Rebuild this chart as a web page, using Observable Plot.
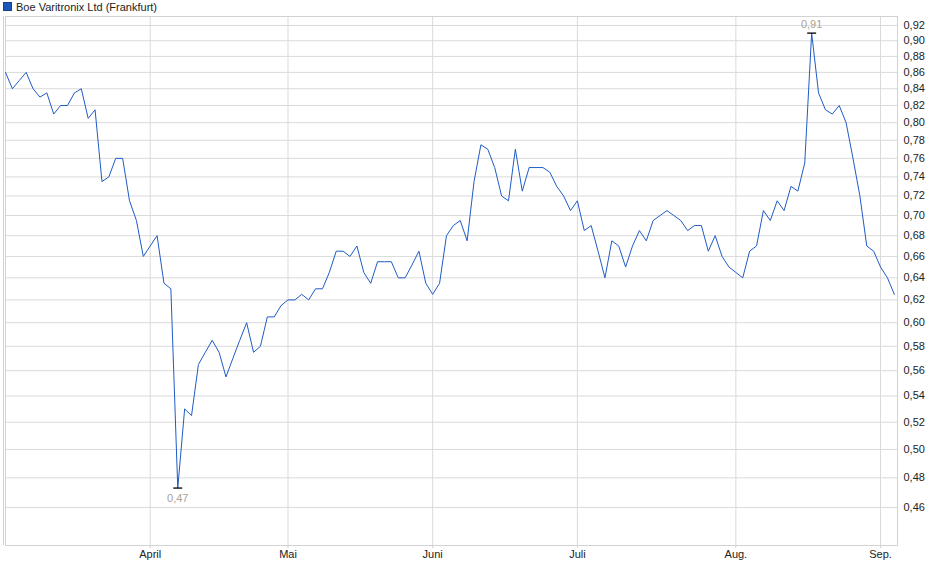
<!DOCTYPE html>
<html>
<head>
<meta charset="utf-8">
<script src="https://cdn.jsdelivr.net/npm/d3@7"></script>
<script src="https://cdn.jsdelivr.net/npm/@observablehq/plot@0.6"></script>
<style>
  html, body { margin: 0; padding: 0; background: #fff; }
  #wrap { position: relative; width: 940px; height: 579px; }
  #legend { position: absolute; left: 3px; top: 0px; font: 11px "Liberation Sans", Arial, sans-serif; color: #222; display: flex; align-items: center; height: 13px; }
  #legend .sw { display: inline-block; width: 7px; height: 7px; background: #1c56bb; border: 1px solid #13408f; margin-right: 4px; }
  #chart { position: absolute; left: 0; top: 0; }
</style>
</head>
<body>
<div id="wrap">
  <div id="chart"></div>
  <div id="legend"><span class="sw"></span><span>Boe Varitronix Ltd (Frankfurt)</span></div>
</div>
<script>
// Daily closing prices (EUR), one per trading day
const price = [
  0.86, 0.84, 0.85, 0.86, 0.84, 0.83, 0.835, 0.81, 0.82, 0.82,
  0.835, 0.84, 0.805, 0.815, 0.735, 0.74, 0.76, 0.76, 0.715, 0.695,
  0.66, 0.67, 0.68, 0.635, 0.63, 0.473, 0.53, 0.525, 0.565, 0.575,
  0.585, 0.575, 0.555, 0.57, 0.585, 0.60, 0.575, 0.58, 0.605, 0.605,
  0.615, 0.62, 0.62, 0.625, 0.62, 0.63, 0.63, 0.645, 0.665, 0.665,
  0.66, 0.67, 0.645, 0.635, 0.655, 0.655, 0.655, 0.64, 0.64, 0.652,
  0.665, 0.635, 0.625, 0.635, 0.68, 0.69, 0.695, 0.675, 0.735, 0.775,
  0.77, 0.75, 0.72, 0.715, 0.77, 0.725, 0.75, 0.75, 0.75, 0.745,
  0.73, 0.72, 0.705, 0.715, 0.685, 0.69, 0.665, 0.64, 0.675, 0.67,
  0.65, 0.67, 0.685, 0.675, 0.695, 0.70, 0.705, 0.70, 0.695, 0.685,
  0.69, 0.69, 0.665, 0.68, 0.66, 0.65, 0.645, 0.64, 0.665, 0.67,
  0.705, 0.695, 0.715, 0.705, 0.73, 0.725, 0.755, 0.91, 0.835, 0.815,
  0.81, 0.82, 0.80, 0.76, 0.72, 0.67, 0.665, 0.65, 0.64, 0.625
];
const minLabel = "0,47";
const maxLabel = "0,91";
const monthLabels = ["April", "Mai", "Juni", "Juli", "Aug.", "Sep."];
const monthStartDay = [21, 41, 62, 83, 106, 127];
const yTicks = [0.46, 0.48, 0.50, 0.52, 0.54, 0.56, 0.58, 0.60, 0.62, 0.64, 0.66, 0.68, 0.70, 0.72, 0.74, 0.76, 0.78, 0.80, 0.82, 0.84, 0.86, 0.88, 0.90, 0.92];

const data = price.map((p, i) => ({day: i, price: p}));
const lo = data.reduce((a, b) => (b.price < a.price ? b : a));
const hi = data.reduce((a, b) => (b.price > a.price ? b : a));

const chart = Plot.plot({
  width: 940,
  height: 579,
  marginTop: 16,
  marginBottom: 34,
  marginLeft: 5,
  marginRight: 43,
  style: {fontFamily: "'Liberation Sans', Arial, sans-serif", fontSize: "11px", background: "white", color: "#222"},
  x: {type: "linear", domain: [0, 129.46]},
  y: {type: "log", domain: [0.4355, 0.932]},
  marks: [
    Plot.gridY(yTicks, {stroke: "#dadada", strokeOpacity: 1}),
    Plot.gridX(monthStartDay, {stroke: "#dadada", strokeOpacity: 1}),
    Plot.frame({stroke: "#d2d2d2"}),
    Plot.ruleX([0], {stroke: "#d2d2d2", dx: -2}),
    Plot.axisY(yTicks, {anchor: "right", tickSize: 0, tickPadding: 6, tickFormat: d => d.toFixed(2).replace(".", ","), fill: "#222", label: null}),
    Plot.axisX(monthStartDay, {anchor: "bottom", tickSize: 3, tickPadding: 2, stroke: "#d2d2d2", fill: "#222", tickFormat: d => monthLabels[monthStartDay.indexOf(d)], label: null}),
    Plot.line(data, {x: "day", y: "price", stroke: "#1f5bc6", strokeWidth: 1}),
    Plot.link([lo, hi], {x1: d => d.day - 0.65, x2: d => d.day + 0.65, y1: "price", y2: "price", stroke: "#000", strokeWidth: 1.3}),
    Plot.text([lo], {x: "day", y: "price", text: () => minLabel, dy: 10, fill: "#a9a398", fontSize: 11}),
    Plot.text([hi], {x: "day", y: "price", text: () => maxLabel, dy: -9, fill: "#a9a398", fontSize: 11})
  ]
});
document.getElementById("chart").appendChild(chart);
</script>
</body>
</html>
